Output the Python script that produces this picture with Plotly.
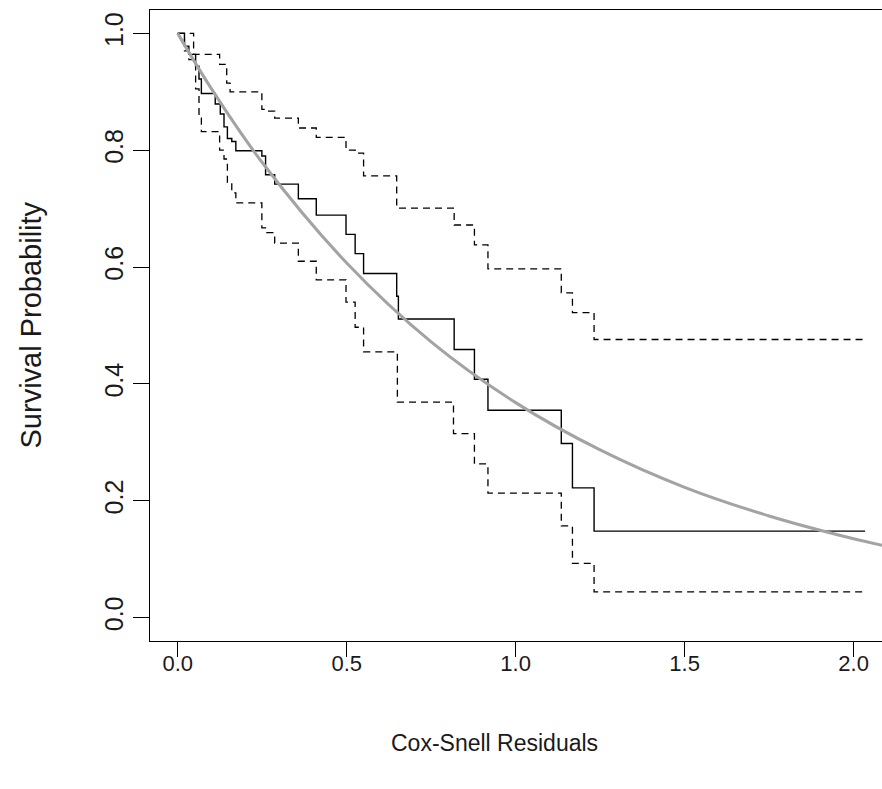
import plotly.graph_objects as go

# Kaplan-Meier estimate of Cox-Snell residuals (step points: time, survival after step)
km_time = [0.0, 0.020, 0.033, 0.053, 0.063, 0.070, 0.111, 0.126, 0.137, 0.147, 0.160, 0.172,
           0.249, 0.260, 0.287, 0.357, 0.410, 0.498, 0.525, 0.550, 0.648, 0.653, 0.818,
           0.878, 0.918, 1.135, 1.168, 1.232, 2.034]
km_surv = [1.0, 0.978, 0.964, 0.944, 0.922, 0.897, 0.879, 0.862, 0.840, 0.820, 0.815, 0.799,
           0.790, 0.758, 0.742, 0.717, 0.689, 0.656, 0.623, 0.589, 0.550, 0.511, 0.459,
           0.408, 0.355, 0.298, 0.222, 0.148, 0.148]

upper_time = [0.0, 0.047, 0.124, 0.145, 0.155, 0.249, 0.263, 0.287, 0.357, 0.410, 0.498,
              0.525, 0.550, 0.648, 0.818, 0.878, 0.918, 1.135, 1.168, 1.232, 2.034]
upper_surv = [1.0, 0.964, 0.947, 0.915, 0.900, 0.870, 0.867, 0.855, 0.838, 0.822, 0.800,
              0.795, 0.756, 0.701, 0.672, 0.638, 0.597, 0.556, 0.522, 0.476, 0.476]

lower_time = [0.0, 0.020, 0.033, 0.053, 0.063, 0.070, 0.124, 0.137, 0.147, 0.160, 0.172,
              0.249, 0.263, 0.287, 0.357, 0.410, 0.498, 0.525, 0.550, 0.650, 0.816,
              0.878, 0.918, 1.135, 1.168, 1.232, 2.034]
lower_surv = [1.0, 0.970, 0.955, 0.905, 0.855, 0.832, 0.800, 0.785, 0.745, 0.727, 0.710,
              0.667, 0.659, 0.641, 0.610, 0.578, 0.540, 0.497, 0.455, 0.369, 0.315,
              0.263, 0.213, 0.157, 0.093, 0.044, 0.044]

# Reference curve (unit exponential survival)
ref_x = [0.0, 0.1, 0.25, 0.5, 0.75, 1.0, 1.25, 1.5, 1.75, 2.0, 2.1]
ref_y = [1.0, 0.905, 0.779, 0.607, 0.472, 0.368, 0.287, 0.223, 0.174, 0.135, 0.122]

x_ticks = [0.0, 0.5, 1.0, 1.5, 2.0]
x_ticklabels = ["0.0", "0.5", "1.0", "1.5", "2.0"]
y_ticks = [0.0, 0.2, 0.4, 0.6, 0.8, 1.0]
y_ticklabels = ["0.0", "0.2", "0.4", "0.6", "0.8", "1.0"]

x_title = "Cox-Snell Residuals"
y_title = "Survival Probability"

FONT = "Liberation Sans, Arial, sans-serif"
TXT = "#1a1a1a"

fig = go.Figure()
fig.add_trace(go.Scatter(x=upper_time, y=upper_surv, mode="lines", line_shape="hv",
                         line=dict(color="black", width=1.3, dash="7px,5px"),
                         showlegend=False, hoverinfo="skip"))
fig.add_trace(go.Scatter(x=lower_time, y=lower_surv, mode="lines", line_shape="hv",
                         line=dict(color="black", width=1.3, dash="7px,5px"),
                         showlegend=False, hoverinfo="skip"))
fig.add_trace(go.Scatter(x=km_time, y=km_surv, mode="lines", line_shape="hv",
                         line=dict(color="black", width=1.4),
                         showlegend=False))
fig.add_trace(go.Scatter(x=ref_x, y=ref_y, mode="lines", line_shape="spline",
                         line=dict(color="#a3a3a3", width=3),
                         showlegend=False))

fig.update_layout(
    width=882, height=789,
    margin=dict(l=150, r=0, t=10, b=148),
    paper_bgcolor="white", plot_bgcolor="white",
    font=dict(family=FONT, size=22, color=TXT),
    xaxis=dict(range=[-0.082, 2.084], tickvals=x_ticks, ticktext=x_ticklabels,
               ticks="outside", ticklen=15, tickwidth=1, tickcolor="black",
               ticklabelstandoff=-12,
               tickfont=dict(size=22),
               showline=True, linecolor="black", linewidth=1, mirror=True,
               showgrid=False, zeroline=False),
    yaxis=dict(range=[-0.04, 1.04], tickvals=y_ticks, ticktext=y_ticklabels,
               tickangle=-90,
               ticks="outside", ticklen=16, tickwidth=1, tickcolor="black",
               tickfont=dict(size=25),
               showline=True, linecolor="black", linewidth=1, mirror=False,
               showgrid=False, zeroline=False),
    annotations=[
        dict(text=x_title, xref="paper", yref="paper", x=(494 - 150) / 732,
             y=-(743 - 641) / 631, xanchor="center", yanchor="middle",
             showarrow=False, font=dict(size=23, color=TXT)),
        dict(text=y_title, xref="paper", yref="paper", x=-(150 - 30) / 732,
             y=0.5, xanchor="center", yanchor="middle", textangle=-90,
             showarrow=False, font=dict(size=29, color=TXT)),
    ],
)

fig.write_html("out.html")
